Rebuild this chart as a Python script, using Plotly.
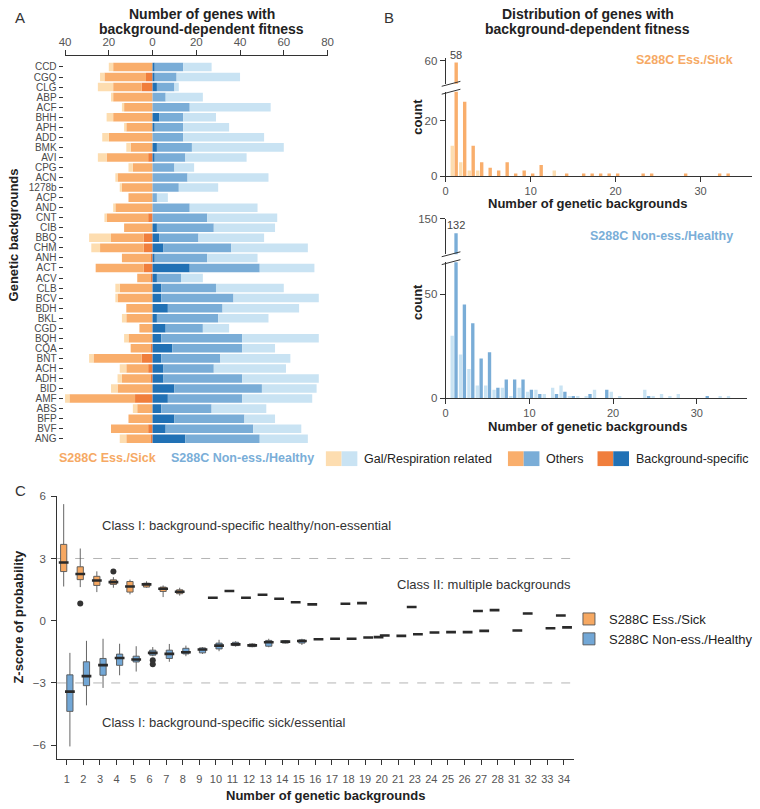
import numpy as np
import plotly.graph_objects as go

W, H = 760, 809
def fx(p): return p / W
def fy(p): return 1 - p / H

FONT = "Liberation Sans, Arial, Helvetica, sans-serif"
TXT = "#333333"
TICK = "#555555"

O_LIGHT, O_MID, O_DARK = "#FDDDB0", "#F9AE6C", "#F07E3C"
B_LIGHT, B_MID, B_DARK = "#C9E3F3", "#7AADD7", "#2171B5"

# ---------------- Panel A data ----------------
backgrounds = ["CCD", "CGQ", "CLG", "ABP", "ACF", "BHH", "APH", "ADD", "BMK", "AVI",
               "CPG", "ACN", "1278b", "ACP", "AND", "CNT", "CIB", "BBQ", "CHM", "ANH",
               "ACT", "ACV", "CLB", "BCV", "BDH", "BKL", "CGD", "BQH", "CQA", "BNT",
               "ACH", "ADH", "BID", "AMF", "ABS", "BFP", "BVF", "ANG"]
ess_bgspec = [0, 3, 5, 0, 0, 0, 0, 0, 0, 2, 0, 0, 0, 0, 0, 2, 0, 4, 4, 1,
              4, 1, 0, 0, 0, 0, 0, 0, 1, 5, 2, 1, 0, 8, 0, 0, 2, 1]
ess_others = [18, 19, 13, 18, 13, 18, 12, 20, 10, 19, 9, 16, 14, 11, 17, 19, 13, 15, 20, 13,
              22, 6, 15, 16, 12, 12, 6, 11, 9, 22, 10, 13, 16, 30, 7, 11, 17, 11]
ess_galresp = [2, 2, 7, 1, 1, 3, 1, 3, 2, 4, 2, 1, 1, 0, 1, 1, 0, 10, 4, 0,
               0, 0, 2, 1, 0, 2, 0, 2, 0, 2, 3, 2, 3, 3, 2, 0, 0, 3]
non_bgspec = [1, 1, 2, 0, 0, 3, 1, 0, 2, 1, 0, 0, 0, 0, 0, 0, 2, 3, 5, 1,
              17, 2, 4, 4, 7, 2, 6, 4, 9, 4, 5, 5, 10, 7, 4, 10, 6, 15]
non_others = [13, 10, 8, 6, 17, 11, 13, 14, 16, 14, 10, 16, 12, 2, 17, 25, 26, 18, 31, 24,
              32, 11, 25, 33, 25, 28, 17, 37, 32, 27, 23, 36, 40, 34, 23, 32, 40, 34]
non_galresp = [13, 29, 2, 17, 37, 15, 21, 37, 42, 28, 9, 37, 18, 5, 31, 32, 28, 30, 35, 23,
               25, 10, 31, 39, 35, 23, 12, 35, 15, 32, 33, 35, 25, 32, 25, 14, 22, 22]

# ---------------- Panel B data ----------------
ess_gal_x = [1, 2, 3, 4, 13]
ess_gal_n = [11, 5, 2, 2, 2]
ess_oth_x = [1, 2, 3, 4, 5, 6, 7, 8, 9, 10, 11, 14, 16, 17, 18, 19, 20, 23, 24, 28, 32, 33]
ess_oth_n = [58, 27, 11, 5, 3, 2, 5, 1, 2, 1, 4, 1, 1, 1, 1, 1, 1, 1, 1, 1, 1, 1]
non_gal_x = [1, 2, 3, 4, 5, 6, 7, 8, 9, 10, 11, 12, 13, 14, 15, 16, 17, 18, 20, 21,
             24, 25, 26, 27, 28, 33, 34]
non_gal_n = [30, 21, 14, 6, 6, 4, 5, 1, 5, 3, 4, 2, 5, 6, 1, 1, 1, 4, 3, 1,
             4, 1, 2, 1, 2, 1, 1]
non_oth_x = [1, 2, 3, 4, 5, 6, 7, 8, 9, 10, 11, 13, 14, 15, 17, 19, 24, 31]
non_oth_n = [132, 45, 36, 19, 22, 5, 9, 9, 9, 4, 2, 2, 3, 1, 2, 4, 1, 1]

# ---------------- Panel C data ----------------
c_categories = [str(i) for i in range(1, 22)] + ["23", "24", "25", "26", "27", "28", "31", "32", "33", "34"]

ess_box_x = ["1", "2", "3", "4", "5", "6", "7", "8", "10", "11", "12", "13", "14", "15",
             "16", "18", "19", "20", "23", "27", "28", "32", "34"]
ess_low = [1.65, 1.62, 1.38, 1.59, 1.27, 1.59, 1.14, 1.21]
ess_q1 = [2.37, 1.98, 1.70, 1.75, 1.38, 1.62, 1.41, 1.30]
ess_med = [2.81, 2.25, 1.94, 1.86, 1.65, 1.75, 1.54, 1.40,
           1.11, 1.43, 1.11, 1.25, 1.06, 0.89, 0.79, 0.82, 0.85, -0.79, 0.66, 0.47, 0.51, 0.35, 0.25]
ess_q3 = [3.68, 2.60, 2.14, 1.97, 1.89, 1.81, 1.62, 1.49]
ess_high = [5.62, 3.48, 2.38, 2.10, 1.98, 1.90, 1.70, 1.59]
ess_out_x = ["2", "4"]
ess_out_y = [0.83, 2.37]

non_box_x = [str(i) for i in range(1, 22)] + ["23", "24", "25", "26", "27", "31", "33", "34"]
non_low = [-6.06, -4.08, -3.24, -2.63, -2.45, -1.71, -1.98, -1.71, -1.60, -1.47, -1.25, -1.28, -1.28, -1.10, -1.17]
non_q1 = [-4.37, -3.13, -2.63, -2.15, -1.99, -1.66, -1.82, -1.60, -1.55, -1.36, -1.20, -1.25, -1.23, -1.08, -1.08]
non_med = [-3.42, -2.67, -2.14, -1.80, -1.87, -1.55, -1.60, -1.52, -1.39, -1.20, -1.14, -1.19, -1.04, -1.01, -0.98,
           -0.89, -0.87, -0.87, -0.81, -0.71, -0.73, -0.65, -0.57, -0.55, -0.55, -0.49, -0.47, -0.36, -0.32]
non_q3 = [-2.61, -1.98, -1.82, -1.61, -1.71, -1.42, -1.42, -1.33, -1.31, -1.08, -1.04, -1.12, -0.95, -0.97, -0.92]
non_high = [-1.55, -0.97, -0.87, -1.11, -1.23, -1.27, -1.12, -1.20, -1.27, -0.92, -0.99, -1.08, -0.87, -0.94, -0.87]
non_out_x = ["6", "6"]
non_out_y = [-1.90, -2.10]


def full_stats(low, q1, med, q3, high):
    """Boxes with quartiles first, then single-value groups (all stats = median)."""
    n = len(q1)
    singles = med[n:]
    return (list(low) + singles, list(q1) + singles, list(med),
            list(q3) + singles, list(high) + singles)


fig = go.Figure()

# ---------------- Panel A bars ----------------
eb, eo, eg = np.array(ess_bgspec), np.array(ess_others), np.array(ess_galresp)
nb, no, ng = np.array(non_bgspec), np.array(non_others), np.array(non_galresp)
for vals, base, col in [(-eb, 0 * eb, O_DARK), (-eo, -eb, O_MID), (-eg, -(eb + eo), O_LIGHT),
                        (nb, 0 * nb, B_DARK), (no, nb, B_MID), (ng, nb + no, B_LIGHT)]:
    fig.add_trace(go.Bar(y=backgrounds, x=vals, base=base, orientation="h",
                         marker=dict(color=col, line=dict(width=0)),
                         xaxis="x", yaxis="y", showlegend=False, hoverinfo="skip"))

# ---------------- Panel B bars ----------------
for xa, ya in [("x2", "y2"), ("x3", "y3")]:
    fig.add_trace(go.Bar(x=ess_gal_x, y=ess_gal_n, width=0.4, offset=-0.42,
                         marker=dict(color=O_LIGHT, line=dict(width=0)),
                         xaxis=xa, yaxis=ya, showlegend=False))
    fig.add_trace(go.Bar(x=ess_oth_x, y=ess_oth_n, width=0.4, offset=0.04,
                         marker=dict(color=O_MID, line=dict(width=0)),
                         xaxis=xa, yaxis=ya, showlegend=False))
for xa, ya in [("x4", "y4"), ("x5", "y5")]:
    fig.add_trace(go.Bar(x=non_gal_x, y=non_gal_n, width=0.4, offset=-0.42,
                         marker=dict(color=B_LIGHT, line=dict(width=0)),
                         xaxis=xa, yaxis=ya, showlegend=False))
    fig.add_trace(go.Bar(x=non_oth_x, y=non_oth_n, width=0.4, offset=0.04,
                         marker=dict(color=B_MID, line=dict(width=0)),
                         xaxis=xa, yaxis=ya, showlegend=False))

# ---------------- Panel C boxes ----------------
el, e1, em, e3, eh = full_stats(ess_low, ess_q1, ess_med, ess_q3, ess_high)
nl, n1, nm, n3, nh = full_stats(non_low, non_q1, non_med, non_q3, non_high)
fig.add_trace(go.Box(x=ess_box_x, lowerfence=el, q1=e1, median=em, q3=e3, upperfence=eh,
                     name="S288C Ess./Sick", fillcolor="#F6A862",
                     line=dict(color="#555555", width=0.9), whiskerwidth=0,
                     offsetgroup="ess", boxpoints=False, xaxis="x6", yaxis="y6"))
fig.add_trace(go.Box(x=non_box_x, lowerfence=nl, q1=n1, median=nm, q3=n3, upperfence=nh,
                     name="S288C Non-ess./Healthy", fillcolor="#72A7D6",
                     line=dict(color="#555555", width=0.9), whiskerwidth=0,
                     offsetgroup="non", boxpoints=False, xaxis="x6", yaxis="y6"))
# medians (thick dark lines) and outliers
fig.add_trace(go.Scatter(x=ess_box_x, y=ess_med, mode="markers", offsetgroup="ess",
                         marker=dict(symbol="line-ew", size=7, line=dict(width=2.6, color="#2a2a2a")),
                         xaxis="x6", yaxis="y6", showlegend=False))
fig.add_trace(go.Scatter(x=non_box_x, y=non_med, mode="markers", offsetgroup="non",
                         marker=dict(symbol="line-ew", size=7, line=dict(width=2.6, color="#2a2a2a")),
                         xaxis="x6", yaxis="y6", showlegend=False))
fig.add_trace(go.Scatter(x=ess_out_x, y=ess_out_y, mode="markers", offsetgroup="ess",
                         marker=dict(symbol="circle", size=6, color="#333333"),
                         xaxis="x6", yaxis="y6", showlegend=False))
fig.add_trace(go.Scatter(x=non_out_x, y=non_out_y, mode="markers", offsetgroup="non",
                         marker=dict(symbol="circle", size=6, color="#333333"),
                         xaxis="x6", yaxis="y6", showlegend=False))

# ---------------- Axes ----------------
ax_common = dict(showgrid=False, zeroline=False, showline=True, linecolor="#333333", linewidth=1,
                 ticks="outside", ticklen=5, tickcolor="#333333",
                 tickfont=dict(size=11.5, color=TICK, family=FONT))

layout_axes = dict(
    xaxis=dict(ax_common, domain=[fx(60), fx(326.7)], range=[-40, 80], side="top", anchor="y",
               tickvals=[-40, -20, 0, 20, 40, 60, 80], ticktext=["40", "20", "0", "20", "40", "60", "80"]),
    yaxis=dict(ax_common, domain=[fy(444.4), fy(51)], anchor="free", position=fx(57.5),
               type="category", categoryorder="array", categoryarray=backgrounds,
               range=[37.5, -1.07], showline=False, ticklen=4,
               tickmode="array", tickvals=backgrounds,
               tickfont=dict(size=10, color="#4a4a4a", family=FONT)),
    xaxis2=dict(ax_common, domain=[fx(446.7), fx(758)], range=[0, 36.05], anchor="y2",
                tickvals=[0, 10, 20, 30], tickfont=dict(size=11, color=TICK, family=FONT)),
    yaxis2=dict(ax_common, domain=[fy(172.7), fy(87)], range=[0, 30.6], anchor="x2", tickvals=[0, 20]),
    xaxis3=dict(domain=[fx(446.7), fx(758)], range=[0, 36.05], anchor="y3", visible=False),
    yaxis3=dict(ax_common, domain=[fy(79), fy(53)], range=[32, 63.4], anchor="x3", tickvals=[60]),
    xaxis4=dict(ax_common, domain=[fx(446.7), fx(753)], range=[0, 36.0], anchor="y4",
                tickvals=[0, 10, 20, 30], tickfont=dict(size=11, color=TICK, family=FONT)),
    yaxis4=dict(ax_common, domain=[fy(398), fy(260)], range=[0, 65.4], anchor="x4", tickvals=[0, 50]),
    xaxis5=dict(domain=[fx(446.7), fx(753)], range=[0, 36.0], anchor="y5", visible=False),
    yaxis5=dict(ax_common, domain=[fy(252), fy(216)], range=[106, 150], anchor="x5", tickvals=[150]),
    xaxis6=dict(ax_common, domain=[fx(52), fx(577)], type="category", categoryorder="array",
                categoryarray=c_categories, range=[-0.58, 30.6], anchor="y6",
                tickmode="array", tickvals=c_categories, ticklabelstandoff=5,
                tickfont=dict(size=11, color=TICK, family=FONT)),
    yaxis6=dict(ax_common, domain=[fy(764), fy(497)], range=[-6.65, 6.03], anchor="x6",
                tickvals=[-6, -3, 0, 3, 6], ticktext=["\u22126", "\u22123", "0", "3", "6"],
                ticklabelstandoff=3),
)

# ---------------- Annotations ----------------
def ann(text, x, y, size=13, color=TXT, bold=False, xanchor="center", yanchor="middle",
        angle=0, xref="paper", yref="paper"):
    t = f"<b>{text}</b>" if bold else text
    return dict(text=t, x=x, y=y, xref=xref, yref=yref, showarrow=False, xanchor=xanchor,
                yanchor=yanchor, textangle=angle, font=dict(size=size, color=color, family=FONT))

annotations = [
    ann("A", fx(7), fy(12), size=15, xanchor="left"),
    ann("B", fx(382), fy(12), size=15, xanchor="left"),
    ann("C", fx(7), fy(492), size=15, xanchor="left"),
    ann("Number of genes with", fx(199), fy(8), size=14, bold=True, color="#222222"),
    ann("background-dependent fitness", fx(199), fy(23.5), size=14, bold=True, color="#222222"),
    ann("Distribution of genes with", fx(591), fy(8), size=14, bold=True, color="#222222"),
    ann("background-dependent fitness", fx(591), fy(23.5), size=14, bold=True, color="#222222"),
    ann("Genetic backgrounds", fx(8), fy(232), size=13, bold=True, angle=-90, color="#222222"),
    ann("S288C Ess./Sick", fx(103.5), fy(458.5), size=12.5, bold=True, color="#F6A964"),
    ann("S288C Non-ess./Healthy", fx(240), fy(458.5), size=12.5, bold=True, color="#7AAED8"),
    ann("Gal/Respiration related", fx(362), fy(459.5), size=12.5, xanchor="left", color="#222222"),
    ann("Others", fx(547), fy(459.5), size=12.5, xanchor="left", color="#222222"),
    ann("Background-specific", fx(638), fy(459.5), size=12.5, xanchor="left", color="#222222"),
    ann("S288C Ess./Sick", fx(741), fy(55), size=12.5, bold=True, color="#F6A964", xanchor="right"),
    ann("S288C Non-ess./Healthy", fx(741), fy(233), size=12.5, bold=True, color="#7AAED8", xanchor="right"),
    ann("count", fx(418), fy(112), size=13, bold=True, angle=-90, color="#222222"),
    ann("count", fx(418), fy(300), size=13, bold=True, angle=-90, color="#222222"),
    ann("Number of genetic backgrounds", fx(591), fy(200), size=13, bold=True, color="#222222"),
    ann("Number of genetic backgrounds", fx(591), fy(426.5), size=13, bold=True, color="#222222"),
    ann(str(ess_oth_n[0]), ess_oth_x[0] + 0.24, ess_oth_n[0], size=11, color="#444444",
        yanchor="bottom", xref="x3", yref="y3"),
    ann(str(non_oth_n[0]), non_oth_x[0] + 0.24, non_oth_n[0], size=11, color="#444444",
        yanchor="bottom", xref="x5", yref="y5"),
    ann("Z-score of probability", fx(13), fy(620), size=13, bold=True, angle=-90, color="#222222"),
    ann("Number of genetic backgrounds", fx(325), fy(801), size=13, bold=True, color="#222222"),
    ann("Class I: background-specific healthy/non-essential", fx(96), fy(527.5), size=13,
        xanchor="left"),
    ann("Class II: multiple backgrounds", fx(395), fy(587), size=13, xanchor="left"),
    ann("Class I: background-specific sick/essential", fx(96), fy(727), size=13, xanchor="left"),
]

# ---------------- Shapes ----------------
def rect(x0, x1, y0, y1, col):
    return dict(type="rect", xref="paper", yref="paper", x0=fx(x0), x1=fx(x1), y0=fy(y1), y1=fy(y0),
                fillcolor=col, line=dict(width=0), layer="above")

def seg(x0, y0, x1, y1, col="#333333", w=1, dash="solid", xref="paper", yref="paper"):
    return dict(type="line", xref=xref, yref=yref, x0=x0, y0=y0, x1=x1, y1=y1,
                line=dict(color=col, width=w, dash=dash), layer="above")

shapes = [
    rect(325, 341, 452, 467, O_LIGHT), rect(341, 357, 452, 467, B_LIGHT),
    rect(510, 526, 452, 467, O_MID), rect(526, 542, 452, 467, B_MID),
    rect(601, 617, 452, 467, O_DARK), rect(617, 633, 452, 467, B_DARK),
    # axis break marks
    seg(fx(442.7), fy(81.5), fx(461.7), fy(76.5)),
    seg(fx(442.7), fy(89.5), fx(461.7), fy(84.5)),
    seg(fx(442.7), fy(254.5), fx(461.7), fy(249.5)),
    seg(fx(442.7), fy(262.5), fx(461.7), fy(257.5)),
    # threshold lines in C
    seg(0, 3, 1.01, 3, col="#b5b5b5", w=1, dash="dash", xref="x6 domain", yref="y6"),
    seg(0, -3, 1.01, -3, col="#b5b5b5", w=1, dash="dash", xref="x6 domain", yref="y6"),
]
for s in shapes[-2:]:
    s["layer"] = "below"

fig.update_layout(
    width=W, height=H, margin=dict(l=0, r=0, t=0, b=0), autosize=False,
    paper_bgcolor="white", plot_bgcolor="white",
    font=dict(family=FONT, color=TXT),
    barmode="overlay", bargap=0.15,
    boxmode="group", boxgap=0.25, boxgroupgap=0,
    scattermode="group", scattergap=0.25,
    showlegend=True,
    legend=dict(x=fx(572), y=fy(607), xanchor="left", yanchor="top", bgcolor="rgba(0,0,0,0)",
                font=dict(size=13, color="#222222", family=FONT), tracegroupgap=0, itemwidth=30),
    annotations=annotations, shapes=shapes,
    **layout_axes,
)

fig.write_html("out.html", config={"responsive": False, "displayModeBar": False},
               post_script="document.body.style.margin='0px';document.body.style.overflow='hidden';")
